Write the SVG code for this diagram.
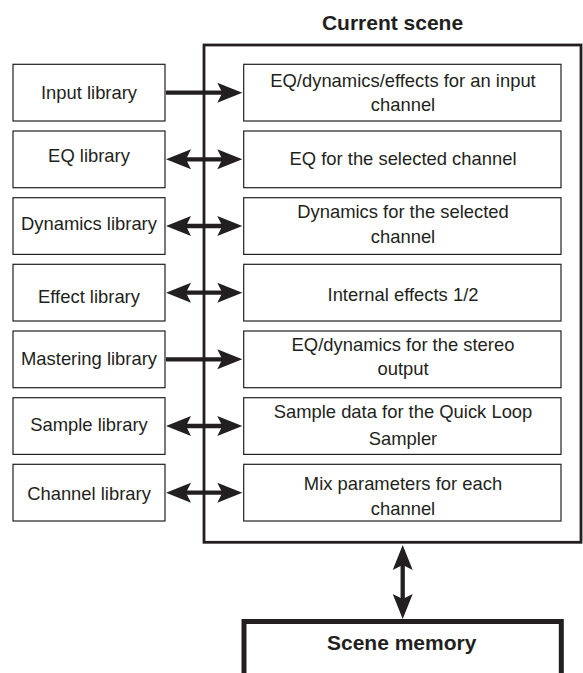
<svg xmlns="http://www.w3.org/2000/svg" width="583" height="673" viewBox="0 0 583 673">
<style>
.box{fill:#fff;stroke:#231f20;stroke-width:1.2}
.t{font-family:"Liberation Sans",Arial,sans-serif;font-size:18.4px;fill:#231f20;text-anchor:middle}
.b{font-family:"Liberation Sans",Arial,sans-serif;font-size:21px;font-weight:bold;fill:#231f20;text-anchor:middle}
.ln{stroke:#231f20;stroke-width:4.3;fill:none}
.hd{fill:#231f20;stroke:none}
</style>
<defs>
<path id="hr" d="M0,0 L-25,-10 L-20,0 L-25,10 Z"/>
</defs>
<rect width="583" height="673" fill="#fff"/>
<g id="current-scene">
<rect x="204" y="45" width="377" height="497.3" fill="none" stroke="#231f20" stroke-width="2.8"/>
<text class="b" x="392.5" y="30">Current scene</text>
</g>
<g id="scene-memory">
<rect x="244" y="621.5" width="317.3" height="70" fill="#fff" stroke="#231f20" stroke-width="5"/>
<text class="b" x="401.7" y="650">Scene memory</text>
</g>
<g id="input-library"><rect class="box" x="13" y="64.3" width="152" height="56.7"/><text class="t" x="89" y="98.5">Input library</text></g>
<g id="eq-library"><rect class="box" x="13" y="131" width="152" height="56.7"/><text class="t" x="89" y="162.3">EQ library</text></g>
<g id="dynamics-library"><rect class="box" x="13" y="197.7" width="152" height="56.7"/><text class="t" x="89" y="230">Dynamics library</text></g>
<g id="effect-library"><rect class="box" x="13" y="264.3" width="152" height="56.7"/><text class="t" x="89" y="303.3">Effect library</text></g>
<g id="mastering-library"><rect class="box" x="13" y="331" width="152" height="56.7"/><text class="t" x="89" y="365">Mastering library</text></g>
<g id="sample-library"><rect class="box" x="13" y="397.7" width="152" height="56.7"/><text class="t" x="89" y="430.7">Sample library</text></g>
<g id="channel-library"><rect class="box" x="13" y="464.3" width="152" height="56.7"/><text class="t" x="89" y="500">Channel library</text></g>
<g id="cs-input"><rect class="box" x="243.7" y="64.3" width="317.3" height="56.7"/><text class="t" x="403" y="87.3">EQ/dynamics/effects for an input</text><text class="t" x="403" y="110.5">channel</text></g>
<g id="cs-eq"><rect class="box" x="243.7" y="131" width="317.3" height="56.7"/><text class="t" x="403" y="165">EQ for the selected channel</text></g>
<g id="cs-dynamics"><rect class="box" x="243.7" y="197.7" width="317.3" height="56.7"/><text class="t" x="403" y="217.5">Dynamics for the selected</text><text class="t" x="403" y="243.3">channel</text></g>
<g id="cs-effects"><rect class="box" x="243.7" y="264.3" width="317.3" height="56.7"/><text class="t" x="403" y="300.7">Internal effects 1/2</text></g>
<g id="cs-mastering"><rect class="box" x="243.7" y="331" width="317.3" height="56.7"/><text class="t" x="403" y="350.7">EQ/dynamics for the stereo</text><text class="t" x="403" y="375">output</text></g>
<g id="cs-sample"><rect class="box" x="243.7" y="397.7" width="317.3" height="56.7"/><text class="t" x="403" y="418">Sample data for the Quick Loop</text><text class="t" x="403" y="445">Sampler</text></g>
<g id="cs-mix"><rect class="box" x="243.7" y="464.3" width="317.3" height="56.7"/><text class="t" x="403" y="490">Mix parameters for each</text><text class="t" x="403" y="515">channel</text></g>
<g id="connectors">
<line class="ln" x1="166" y1="92.7" x2="225" y2="92.7"/>
<use href="#hr" class="hd" transform="translate(242.3,92.7)"/>
<line class="ln" x1="183" y1="159.3" x2="225" y2="159.3"/>
<use href="#hr" class="hd" transform="translate(242.3,159.3)"/>
<use href="#hr" class="hd" transform="translate(166,159.3) rotate(180)"/>
<line class="ln" x1="183" y1="226" x2="225" y2="226"/>
<use href="#hr" class="hd" transform="translate(242.3,226)"/>
<use href="#hr" class="hd" transform="translate(166,226) rotate(180)"/>
<line class="ln" x1="183" y1="292.7" x2="225" y2="292.7"/>
<use href="#hr" class="hd" transform="translate(242.3,292.7)"/>
<use href="#hr" class="hd" transform="translate(166,292.7) rotate(180)"/>
<line class="ln" x1="166" y1="359.3" x2="225" y2="359.3"/>
<use href="#hr" class="hd" transform="translate(242.3,359.3)"/>
<line class="ln" x1="183" y1="426" x2="225" y2="426"/>
<use href="#hr" class="hd" transform="translate(242.3,426)"/>
<use href="#hr" class="hd" transform="translate(166,426) rotate(180)"/>
<line class="ln" x1="183" y1="492.7" x2="225" y2="492.7"/>
<use href="#hr" class="hd" transform="translate(242.3,492.7)"/>
<use href="#hr" class="hd" transform="translate(166,492.7) rotate(180)"/>
<line class="ln" x1="402.7" y1="562" x2="402.7" y2="602"/>
<use href="#hr" class="hd" transform="translate(402.7,545) rotate(-90)"/>
<use href="#hr" class="hd" transform="translate(402.7,619) rotate(90)"/>
</g>
</svg>
